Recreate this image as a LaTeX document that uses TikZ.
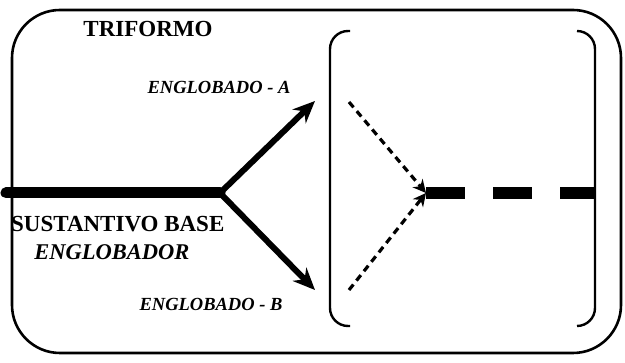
\documentclass[tikz,border=0pt]{standalone}
\usepackage{fontspec}
\setmainfont{Liberation Serif}
\usetikzlibrary{arrows.meta}
\tikzset{
  frame/.style={line width=2.6pt, rounded corners=48pt},
  bracket/.style={line width=2.4pt, rounded corners=18pt},
  thick line/.style={line width=11pt},
  arrowline/.style={line width=6pt, -{Stealth[length=22pt,width=19pt]}},
  dasharrow/.style={line width=3.2pt, dash pattern=on 7pt off 5pt, -{Stealth[length=13pt,width=13pt]}},
  thickdash/.style={line width=12pt, dash pattern=on 39pt off 28pt},
  title/.style={font=\fontsize{23}{26}\selectfont\bfseries, inner sep=0pt},
  label/.style={font=\fontsize{18.5}{21}\selectfont\bfseries\itshape, inner sep=0pt},
  biglabel/.style={font=\fontsize{22.5}{25}\selectfont\bfseries\itshape, inner sep=0pt}
}
\begin{document}
\begin{tikzpicture}[x=1pt,y=-1pt]
\useasboundingbox (0,0) rectangle (625,363);
% outer frame
\draw[frame] (12,10) rectangle (621,353);
% brackets
\draw[bracket] (350,31) -- (330,31) -- (330,326) -- (350,326);
\draw[bracket] (577,31) -- (595,31) -- (595,326) -- (577,326);
% coordinates
\coordinate (start) at (6,193);
\coordinate (fork) at (220,193);
\coordinate (enda) at (315,101);
\coordinate (endb) at (315,290);
\coordinate (da) at (349,102);
\coordinate (db) at (349,290);
\coordinate (meet) at (426,193);
\coordinate (right) at (595,193);
% thick base line
\draw[thick line, line cap=round] (start) -- (fork);
\draw[arrowline] (fork) -- (enda);
\draw[arrowline] (fork) -- (endb);
% dashed arrows
\draw[dasharrow] (da) -- (meet);
\draw[dasharrow] (db) -- (meet);
\draw[thickdash] (meet) -- (right);
% texts
\node[title] (tri) at (148,29) {TRIFORMO};
\node[label] (ea) at (219,87) {ENGLOBADO - A};
\node[title, anchor=west] (sb) at (11,224) {SUSTANTIVO BASE};
\node[biglabel] (eb) at (112,252) {ENGLOBADOR};
\node[label] (ebb) at (211,304) {ENGLOBADO - B};
\end{tikzpicture}
\end{document}
